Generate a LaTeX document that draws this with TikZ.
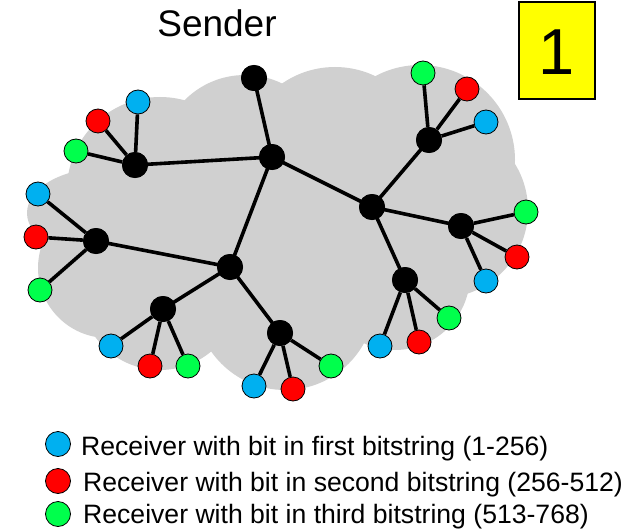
\documentclass[tikz,border=0pt]{standalone}
\usepackage{fontspec}
\setmainfont{Liberation Sans}
\definecolor{cloudgray}{RGB}{208,208,208}
\definecolor{lblue}{RGB}{0,176,240}
\definecolor{lred}{RGB}{255,0,0}
\definecolor{lgreen}{RGB}{0,255,76}
\definecolor{boxyellow}{RGB}{255,255,0}
\tikzset{
  router/.style={circle, fill=black, inner sep=0pt, minimum size=26pt},
  leaf/.style={circle, draw=black, line width=0.8pt, inner sep=0pt, minimum size=24pt},
  legdot/.style={circle, draw=black, line width=0.8pt, inner sep=0pt, minimum size=25pt},
  link/.style={line width=3.6pt, black},
  legtext/.style={anchor=base west, inner sep=0pt, font=\fontsize{26.6}{30}\selectfont},
}
\begin{document}
\begin{tikzpicture}[x=1pt,y=-1pt]
\useasboundingbox (0,0) rectangle (639,532);
% cloud
\begin{scope}[fill=cloudgray]
\fill (160,190) circle (93);
\fill (245,160) circle (85);
\fill (335,160) circle (93);
\fill (420,160) circle (95);
\fill (440,210) circle (88);
\fill (395,275) circle (75);
\fill (285,300) circle (90);
\fill (160,290) circle (80);
\fill (108,268) circle (70);
\fill (105,213) ellipse (78 and 45);
\fill (290,230) ellipse (200 and 110);
\end{scope}
% routers
\node[router] (S) at (254,78) {};
\node[router] (A) at (272,157) {};
\node[router] (B) at (135,165) {};
\node[router] (C) at (372,207) {};
\node[router] (D) at (429,140) {};
\node[router] (E) at (96,241) {};
\node[router] (F) at (230,267) {};
\node[router] (G) at (461,226) {};
\node[router] (H) at (405,280) {};
\node[router] (I) at (163,309) {};
\node[router] (J) at (280,333) {};
% leaves
\node[leaf, fill=lblue]  (b1) at (138,102) {};
\node[leaf, fill=lred]   (b2) at (98,121) {};
\node[leaf, fill=lgreen] (b3) at (76,151) {};
\node[leaf, fill=lgreen] (d1) at (423,73) {};
\node[leaf, fill=lred]   (d2) at (467,89) {};
\node[leaf, fill=lblue]  (d3) at (486,122) {};
\node[leaf, fill=lblue]  (e1) at (38,194) {};
\node[leaf, fill=lred]   (e2) at (36,237) {};
\node[leaf, fill=lgreen] (e3) at (40,290) {};
\node[leaf, fill=lblue]  (i1) at (111,346) {};
\node[leaf, fill=lred]   (i2) at (150,366) {};
\node[leaf, fill=lgreen] (i3) at (188,366) {};
\node[leaf, fill=lblue]  (j1) at (254,386) {};
\node[leaf, fill=lred]   (j2) at (293,389) {};
\node[leaf, fill=lgreen] (j3) at (331,366) {};
\node[leaf, fill=lgreen] (g1) at (526,212) {};
\node[leaf, fill=lred]   (g2) at (517,257) {};
\node[leaf, fill=lblue]  (g3) at (486,281) {};
\node[leaf, fill=lblue]  (h1) at (380,346) {};
\node[leaf, fill=lred]   (h2) at (419,342) {};
\node[leaf, fill=lgreen] (h3) at (449,318) {};
% links
\draw[link] (S.center) -- (A.center);
\draw[link] (A.center) -- (B.center);
\draw[link] (A.center) -- (C.center);
\draw[link] (A.center) -- (F.center);
\draw[link] (C.center) -- (D.center);
\draw[link] (C.center) -- (G.center);
\draw[link] (C.center) -- (H.center);
\draw[link] (F.center) -- (E.center);
\draw[link] (F.center) -- (I.center);
\draw[link] (F.center) -- (J.center);
\foreach \p/\c in {B/b1,B/b2,B/b3,D/d1,D/d2,D/d3,E/e1,E/e2,E/e3,I/i1,I/i2,I/i3,J/j1,J/j2,J/j3,G/g1,G/g2,G/g3,H/h1,H/h2,H/h3}{
  \draw[link] (\p) -- (\c);
}
% redraw router discs on top of the links
\foreach \n in {S,A,B,C,D,E,F,G,H,I,J}{
  \fill (\n.center) circle (13);
}
% labels
\node[anchor=base, inner sep=0pt, font=\fontsize{37}{40}\selectfont] (sender) at (217,37) {Sender};
\node[draw=black, line width=1.6pt, fill=boxyellow, minimum width=76pt, minimum height=97pt, inner sep=0pt] (num) at (557,50.5) {};
\node[anchor=base, inner sep=0pt, font=\fontsize{65}{70}\selectfont] (numtext) at (557,75) {1};
% legend
\node[legdot, fill=lblue]  (lb) at (58,444) {};
\node[legdot, fill=lred]   (lr) at (58,481) {};
\node[legdot, fill=lgreen] (lg) at (58,514) {};
\node[legtext] (t1) at (81,455) {Receiver with bit in first bitstring (1-256)};
\node[legtext] (t2) at (83,491) {Receiver with bit in second bitstring (256-512)};
\node[legtext] (t3) at (83,523) {Receiver with bit in third bitstring (513-768)};
\end{tikzpicture}
\end{document}
